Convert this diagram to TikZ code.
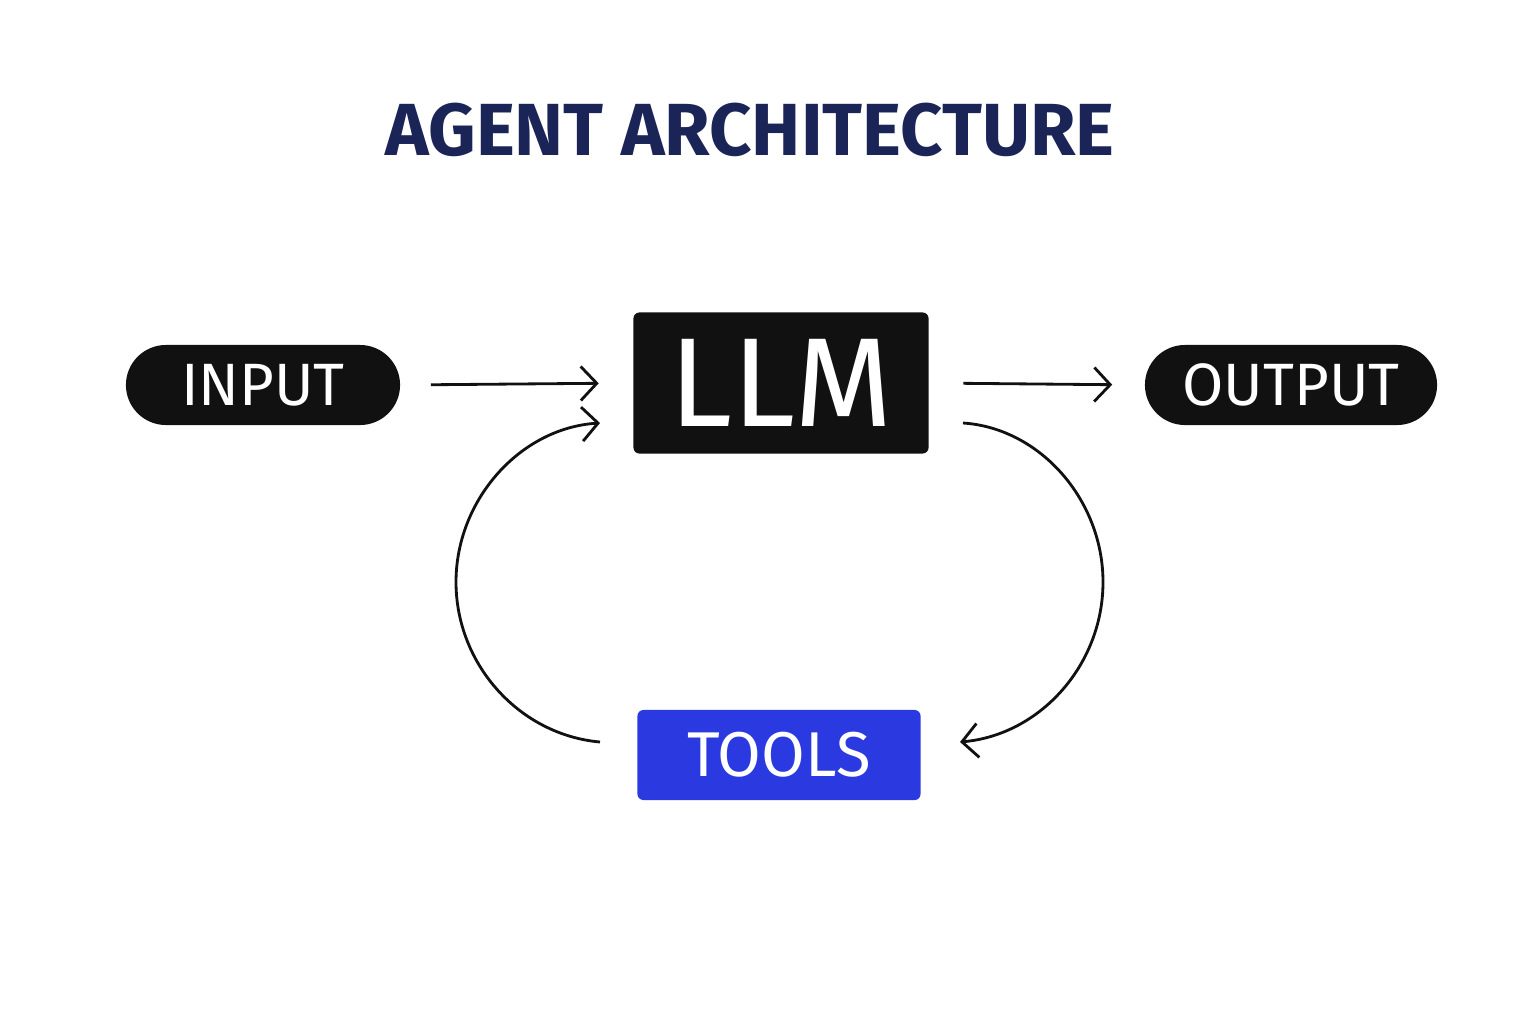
\documentclass[tikz,border=0pt]{standalone}
\usepackage{fontspec}
\setmainfont{Fira Sans}
\usetikzlibrary{arrows.meta,positioning,calc}
\definecolor{navy}{HTML}{1A2456}
\definecolor{toolblue}{HTML}{2A3AE0}
\definecolor{boxblack}{HTML}{111111}

\begin{document}
\begin{tikzpicture}[x=0.01cm,y=-0.01cm,
    pill/.style={fill=boxblack, text=white, rounded corners=0.4cm,
        minimum width=2.74cm, minimum height=0.8cm, inner sep=0pt,
        font=\fontsize{17}{17}\selectfont},
    flow/.style={draw=boxblack, line width=0.8pt, -{Straight Barb[length=1.6mm,width=3.4mm]}}]
        % Canvas
        \useasboundingbox (0,0) rectangle (1536,1024);

        % Title
        \node[text=navy, font=\fontsize{21}{21}\selectfont\bfseries] (title) at (750,130) {AGENT ARCHITECTURE};

        % Main blocks
        \node[pill] (inp) at (263,385) {INPUT};
        \node[fill=boxblack, text=white, rounded corners=0.06cm, minimum width=2.95cm,
              minimum height=1.41cm, inner sep=0pt, font=\fontsize{36}{36}\selectfont] (llm) at (781,383) {LLM};
        \node[pill, minimum width=2.92cm] (out) at (1291,385) {OUTPUT};
        \node[fill=toolblue, text=white, rounded corners=0.06cm, minimum width=2.83cm,
              minimum height=0.9cm, inner sep=0pt, font=\fontsize{18}{18}\selectfont] (tools) at (779,755) {TOOLS};

        % Loop end points
        \coordinate (la) at (600,742);
        \coordinate (lb) at (600,423);
        \coordinate (ra) at (963,423);
        \coordinate (rb) at (960,742);

        % Connectors
        \draw[flow, shorten <=0.3cm, shorten >=0.34cm] (inp.east) -- (llm.west);
        \draw[flow, shorten <=0.34cm, shorten >=0.32cm] (llm.east) -- (out.west);
        \draw[flow] (la) .. controls (520,735) and (456,665) .. (456,582)
                         .. controls (456,500) and (520,428) .. (lb);
        \draw[flow] (ra) .. controls (1040,428) and (1103,500) .. (1103,582)
                         .. controls (1103,665) and (1040,735) .. (rb);
\end{tikzpicture}
\end{document}
